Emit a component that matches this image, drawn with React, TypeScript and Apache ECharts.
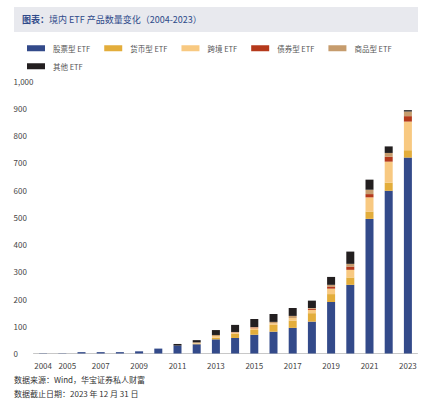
import { useRef, useEffect } from 'react'
import * as echarts from 'echarts'

const FONT = '"Noto Sans CJK SC", "Noto Sans", sans-serif'

const years = [
  '2004', '2005', '2006', '2007', '2008', '2009', '2010', '2011', '2012', '2013',
  '2014', '2015', '2016', '2017', '2018', '2019', '2020', '2021', '2022', '2023',
]
const stockEtf = [1, 1, 5, 5, 5, 8, 18, 29, 34, 52, 57, 69, 80, 94, 117, 189, 252, 494, 597, 719]
const moneyEtf = [0, 0, 0, 0, 0, 0, 0, 0, 2, 6, 15, 17, 25, 27, 31, 29, 27, 27, 30, 27]
const crossEtf = [0, 0, 0, 0, 0, 0, 0, 0, 2, 6, 5, 7, 6, 9, 12, 20, 28, 52, 77, 105]
const bondEtf = [0, 0, 0, 0, 0, 0, 0, 0, 0, 0, 1, 2, 0, 0, 4, 8, 12, 12, 18, 20]
const commodityEtf = [0, 0, 0, 0, 0, 0, 0, 0, 3, 4, 1, 2, 5, 8, 3, 6, 10, 16, 14, 17]
const otherEtf = [0, 0, 0, 0, 0, 0, 0, 6, 8, 18, 26, 30, 29, 29, 27, 29, 45, 37, 24, 5]

const seriesDefs = [
  { name: '股票型 ETF', data: stockEtf, color: '#334a8a' },
  { name: '货币型 ETF', data: moneyEtf, color: '#e3ad3b' },
  { name: '跨境 ETF', data: crossEtf, color: '#f8c981' },
  { name: '债券型 ETF', data: bondEtf, color: '#b5391b' },
  { name: '商品型 ETF', data: commodityEtf, color: '#c69c6d' },
  { name: '其他 ETF', data: otherEtf, color: '#231f20' },
]

const TITLE = '境内 ETF 产品数量变化（2004-2023）'
const SOURCE = '数据来源：Wind，华宝证券私人财富'
const CUTOFF = '数据截止日期：2023 年 12 月 31 日'

export default function App() {
  const chartRef = useRef<HTMLDivElement>(null)

  useEffect(() => {
    if (!chartRef.current) return
    const chart = echarts.init(chartRef.current, undefined, { renderer: 'svg' })

    const legendBase = {
      icon: 'rect',
      itemWidth: 18,
      itemHeight: 6,
      itemGap: 14,
      left: 22,
      textStyle: { fontSize: 7.5, color: '#555', fontFamily: FONT, padding: [0, 0, 0, 3] },
    }

    const option: echarts.EChartsOption = {
      animation: false,
      backgroundColor: '#fff',
      textStyle: { fontFamily: FONT },
      graphic: [
        {
          type: 'rect',
          shape: { x: 14, y: 7, width: 404, height: 25 },
          style: { fill: '#e8e9ee' },
          silent: true,
        },
        {
          type: 'text',
          x: 22,
          y: 19.5,
          style: {
            text: '{b|图表：}' + TITLE,
            fill: '#2f4a8a',
            fontSize: 9,
            fontFamily: FONT,
            verticalAlign: 'middle',
            rich: {
              b: { fontWeight: 'bold', fontSize: 9, fill: '#2f4a8a', fontFamily: FONT },
            },
          },
        },
        {
          type: 'text',
          x: 14,
          y: 379,
          style: { text: SOURCE, fill: '#333', fontSize: 8, fontFamily: FONT, verticalAlign: 'middle' },
        },
        {
          type: 'text',
          x: 14,
          y: 393,
          style: { text: CUTOFF, fill: '#333', fontSize: 8, fontFamily: FONT, verticalAlign: 'middle' },
        },
      ],
      legend: [
        { ...legendBase, top: 39.5, data: seriesDefs.slice(0, 5).map((s) => s.name) },
        { ...legendBase, top: 57.5, data: [seriesDefs[5].name] },
      ],
      grid: { left: 33.5, right: 17.5, top: 81, bottom: 46.5 },
      xAxis: {
        type: 'category',
        data: years,
        axisLine: { lineStyle: { color: '#c8c8c8' } },
        axisTick: { show: false },
        axisLabel: {
          interval: (i: number) => i === 0 || i % 2 === 1,
          fontSize: 8,
          color: '#444',
          margin: 8,
          formatter: (v: string, i: number) => (i === 1 ? '{s|' + v + '}' : v),
          rich: { s: { fontSize: 8, color: '#444', padding: [0, 0, 0, 10] } },
        },
      },
      yAxis: {
        type: 'value',
        min: 0,
        max: 1000,
        interval: 100,
        axisLine: { show: false },
        axisTick: { show: false },
        splitLine: { show: false },
        axisLabel: {
          fontSize: 8,
          color: '#444',
          align: 'left',
          margin: 20,
          formatter: (v: number) => v.toLocaleString('en-US'),
        },
      },
      series: seriesDefs.map((s) => ({
        name: s.name,
        type: 'bar',
        stack: 'total',
        barWidth: 8,
        data: s.data,
        itemStyle: { color: s.color },
      })) as echarts.SeriesOption[],
    }

    chart.setOption(option)
    return () => {
      chart.dispose()
    }
  }, [])

  return (
    <div
      ref={chartRef}
      style={{ position: 'absolute', left: 0, top: 0, width: 435, height: 400 }}
    />
  )
}
